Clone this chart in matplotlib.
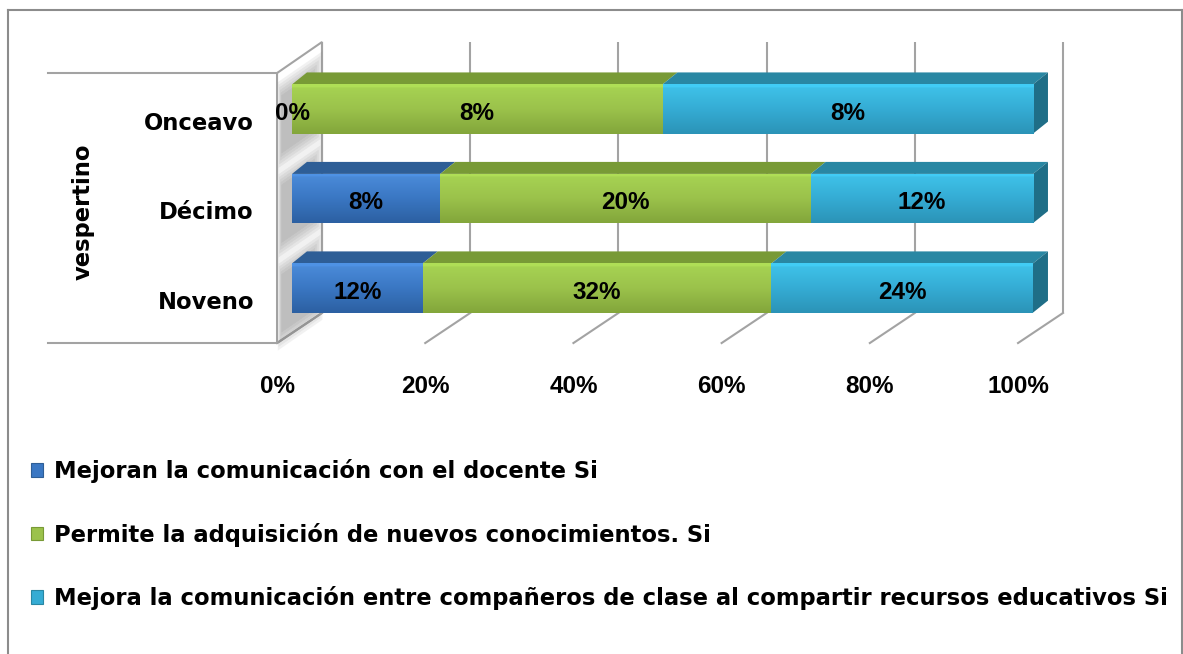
import numpy as np
import matplotlib
matplotlib.use("Agg")
import matplotlib.pyplot as plt
from matplotlib import font_manager
from matplotlib.patches import Polygon, Rectangle
from matplotlib.lines import Line2D
from matplotlib.colors import to_rgb

# ---------------- data ----------------
categories = ["Noveno", "Décimo", "Onceavo"]
group_label = "vespertino"
series_names = [
    "Mejoran la comunicación con el docente Si",
    "Permite la adquisición de nuevos conocimientos. Si",
    "Mejora la comunicación entre compañeros de clase al compartir recursos educativos Si",
]
docente = [12, 8, 0]
conocimientos = [32, 20, 8]
companeros = [24, 12, 8]
x_ticks = [0, 20, 40, 60, 80, 100]
x_tick_labels = ["0%", "20%", "40%", "60%", "80%", "100%"]

# ---------------- style ----------------
W, H = 1183, 654
TXT_FONT = "DejaVu Sans"
NUM_FONT = "Liberation Sans"
TICK_FONT, TICK_SIZE = "Liberation Sans", 17.5
try:
    font_manager.findfont(font_manager.FontProperties(family="Liberation Sans Narrow", weight="bold"),
                          fallback_to_default=False)
    TICK_FONT, TICK_SIZE = "Liberation Sans Narrow", 21.5
except Exception:
    pass

GRID = "#a3a3a3"
front_top = ["#4a8ad8", "#a6d252", "#3ec1e8"]
front_bot = ["#2c60a2", "#83a63b", "#2b93b7"]
front_mid = ["#3a77c3", "#9bc24b", "#35acd4"]
top_face = ["#2e5e96", "#789a36", "#2987a3"]
end_face = "#1f6e87"

fig = plt.figure(figsize=(W / 100, H / 100), dpi=100)
ax = fig.add_axes([292 / W, (H - 345) / H, 741 / W, 303 / H])
XL, YL = (0, 100), (-0.637, 2.749)
ax.set_xlim(*XL)
ax.set_ylim(*YL)
ax.axis("off")

# depth offsets (data units)
bdx, bdy = 2.02, 0.134          # bar depth
fx, bx = -2.02, 4.05            # front / back plane x offsets
fy, by = -0.615, -0.279         # front / back floor y
wall_top_front, wall_top_back = 2.402, 2.749

# ---------------- walls & grid ----------------
wall = Polygon([(fx, fy), (fx, wall_top_front), (bx, wall_top_back), (bx, by)],
               closed=True, facecolor="white", edgecolor=GRID, lw=1.5,
               clip_on=False, zorder=1)
ax.add_patch(wall)
for v in x_ticks:
    ax.plot([v + bx, v + bx], [by, wall_top_back], color=GRID, lw=1.5,
            clip_on=False, zorder=1, solid_capstyle="butt")
    ax.plot([v + fx, v + bx], [fy, by], color=GRID, lw=1.5,
            clip_on=False, zorder=1)
# category group bracket lines
for yy in (fy, wall_top_front):
    ax.plot([-32.9, fx], [yy, yy], color=GRID, lw=1.5, clip_on=False, zorder=1)

# ---------------- bars ----------------
series = [docente, conocimientos, companeros]
ypos = np.arange(len(categories))
bar_h = 0.55
totals = np.array([sum(s[i] for s in series) for i in range(len(categories))], float)
shares = [np.array(s, float) / totals * 100 for s in series]

# soft shadows on side wall
slope = (wall_top_back - wall_top_front) / (bx - fx)
for c in ypos:
    yb0 = c - bar_h / 2 - 0.04
    yt0 = c + bar_h / 2 + 0.06
    for k in range(6):
        e = 0.035 * k
        x0, x1 = fx + 0.6 - 0.1 * k, bx - 1.2 + 0.25 * k
        pts = [(x0, yb0 - e + slope * x0 - 0.1), (x0, yt0 + e + slope * x0 - 0.1),
               (x1, yt0 + e + slope * x1 - 0.1), (x1, yb0 - e + slope * x1 - 0.1)]
        ax.add_patch(Polygon(pts, closed=True, facecolor="#6e6e6e", edgecolor="none",
                             alpha=0.09, clip_on=False, zorder=1.5))


def grad_img(top, mid, bot, n=60):
    t = np.linspace(0, 1, n)
    a, b, c = np.array(to_rgb(top)), np.array(to_rgb(mid)), np.array(to_rgb(bot))
    rows = []
    for tt in t:
        if tt < 0.06:
            col = a * 1.06
        elif tt < 0.5:
            f = (tt - 0.06) / 0.44
            col = a * (1 - f) + b * f
        else:
            f = (tt - 0.5) / 0.5
            col = b * (1 - f) + c * f
        rows.append(np.clip(col, 0, 1))
    return np.array(rows)[:, None, :]


left = np.zeros(len(categories))
for si, sh in enumerate(shares):
    bars = ax.barh(ypos, sh, left=left, height=bar_h, color=front_mid[si],
                   edgecolor="none", zorder=3, label=series_names[si])
    img = grad_img(front_top[si], front_mid[si], front_bot[si])
    for i, rect in enumerate(bars):
        l, w = left[i], sh[i]
        yb, yt = ypos[i] - bar_h / 2, ypos[i] + bar_h / 2
        if w > 0:
            im = ax.imshow(img, extent=(l, l + w, yb, yt), aspect="auto",
                           interpolation="bilinear", zorder=3.5, origin="upper")
            im.set_clip_path(rect)
            ax.add_patch(Polygon([(l, yt), (l + w, yt), (l + w + bdx, yt + bdy), (l + bdx, yt + bdy)],
                                 closed=True, facecolor=top_face[si], edgecolor="none",
                                 zorder=3, clip_on=False))
        # value label
        ax.text(l + w / 2, ypos[i] - 0.02, f"{series[si][i]}%", ha="center",
                va="center_baseline", fontsize=17.5, fontweight="bold",
                family=NUM_FONT, color="black", zorder=6)
    left = left + sh

# right end faces
for i in range(len(categories)):
    R = left[i]
    yb, yt = ypos[i] - bar_h / 2, ypos[i] + bar_h / 2
    ax.add_patch(Polygon([(R, yb), (R + bdx, yb + bdy), (R + bdx, yt + bdy), (R, yt)],
                         closed=True, facecolor=end_face, edgecolor="none",
                         zorder=3, clip_on=False))

ax.set_xlim(*XL)
ax.set_ylim(*YL)

# ---------------- axis labels ----------------
for v, lab in zip(x_ticks, x_tick_labels):
    ax.text(v + fx, -1.078, lab, ha="center", va="center_baseline", fontsize=TICK_SIZE,
            fontweight="bold", family=TICK_FONT, color="black", clip_on=False)
for c, lab in zip(ypos, categories):
    ax.text(-5.13, c - 0.13, lab, ha="right", va="center_baseline", fontsize=16.3,
            fontweight="bold", family=TXT_FONT, color="black", clip_on=False)
ax.text(-28.2, 0.849, group_label, rotation=90, ha="center", va="center", fontsize=16.3,
        fontweight="bold", family=TXT_FONT, color="black", clip_on=False)

# ---------------- legend ----------------
leg_handles = [Rectangle((0, 0), 1, 1, facecolor=front_mid[i], edgecolor=top_face[i], lw=0.8)
               for i in range(3)]
fig.legend(leg_handles, series_names, loc="upper left",
           bbox_to_anchor=(31 / W, 1 - 459 / H), bbox_transform=fig.transFigure,
           frameon=False, borderpad=0, borderaxespad=0, handlelength=0.55,
           handleheight=0.55, handletextpad=0.45, labelspacing=1.75,
           prop={"family": TXT_FONT, "weight": "bold", "size": 16.3})

# ---------------- outer frame ----------------
FR = "#8c8c8c"
fig.add_artist(Line2D([8 / W, 8 / W], [0, 1 - 10 / H], color=FR, lw=1.5, transform=fig.transFigure))
fig.add_artist(Line2D([8 / W, 1181.5 / W], [1 - 10 / H, 1 - 10 / H], color=FR, lw=1.5, transform=fig.transFigure))
fig.add_artist(Line2D([1181.5 / W, 1181.5 / W], [0, 1 - 10 / H], color=FR, lw=1.5, transform=fig.transFigure))

fig.savefig("out.png", dpi=100, facecolor="white")
